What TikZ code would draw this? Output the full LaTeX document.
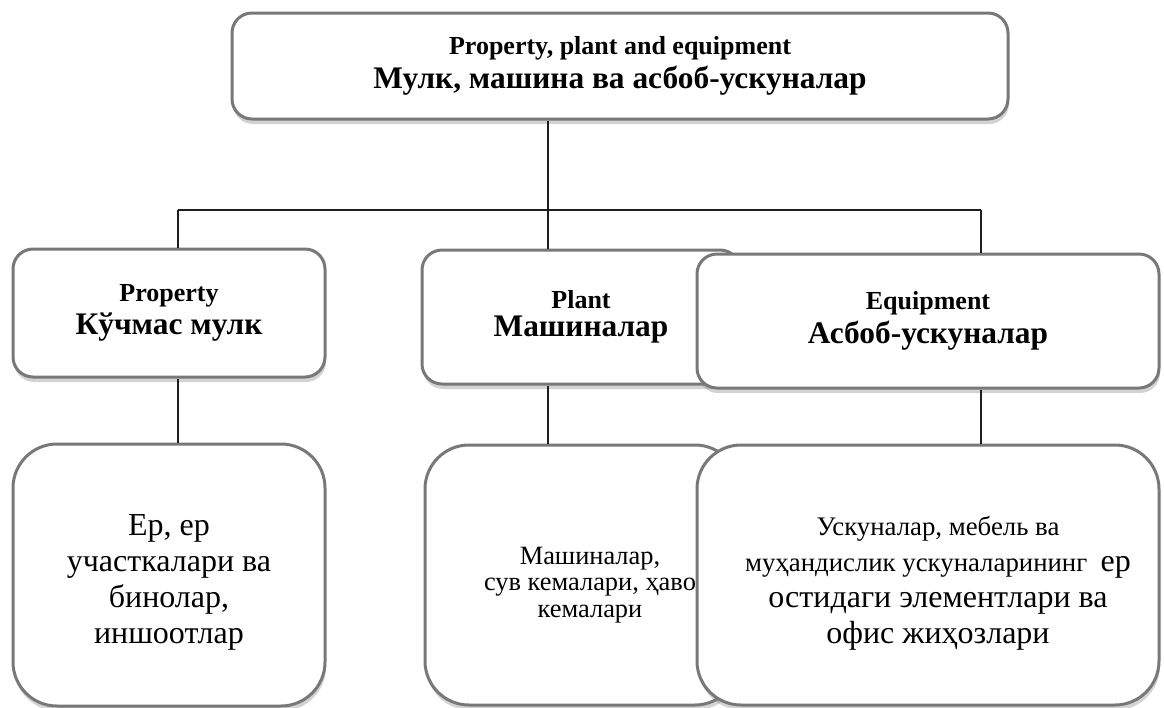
\documentclass[tikz,border=0pt]{standalone}
\usepackage{fontspec}
\setmainfont{Liberation Serif}
\definecolor{cardedge}{RGB}{120,120,120}
\definecolor{linkgray}{RGB}{30,30,30}
\usetikzlibrary{positioning,shadows}

\tikzset{
  card/.style={draw=cardedge,line width=1.5pt,fill=white,rounded corners=10pt,
        drop shadow={shadow xshift=0.5pt,shadow yshift=-2.5pt,opacity=0.35},
        align=center,inner sep=0pt},
  leafcard/.style={card,rounded corners=22pt},
  note/.style={align=center,inner sep=0pt},
  link/.style={draw=linkgray,line width=0.6pt}
}
\newcommand{\engtitle}[1]{{\fontsize{13pt}{15pt}\selectfont\bfseries #1}}
\newcommand{\uztitle}[1]{{\fontsize{15.7pt}{17.5pt}\selectfont\bfseries #1}}

\begin{document}
\begin{tikzpicture}[x=0.5pt,y=-0.5pt]
  \useasboundingbox (0,0) rectangle (1164,708);

  %% Top box
  \node[card,minimum width=388pt,minimum height=53pt] (top) at (620,66)
        {\engtitle{Property, plant and equipment}\\[2pt]
         \uztitle{Мулк, машина ва асбоб-ускуналар}};

  %% Second row
  \node[card,minimum width=156pt,minimum height=64pt] (prop) at (169,313)
        {\engtitle{Property}\\[2pt] \uztitle{Кўчмас мулк}};
  \node[card,minimum width=159pt,minimum height=67pt] (plant) at (581,317)
        {\engtitle{Plant}\\[2pt] \uztitle{Машиналар}};
  \node[card,minimum width=231pt,minimum height=67pt] (equip) at (928,321)
        {\engtitle{Equipment}\\[2pt] \uztitle{Асбоб-ускуналар}};

  %% Bottom row
  \node[leafcard,minimum width=156pt,minimum height=131pt] (propleaf) at (169,575) {};
  \node[note,font=\fontsize{16pt}{18pt}\selectfont] (propnote) at (169,582)
        {Ер, ер\\ участкалари ва\\ бинолар,\\ иншоотлар};
  \node[leafcard,minimum width=157pt,minimum height=130pt] (plantleaf) at (582,575) {};
  \node[note,font=\fontsize{13.2pt}{13.3pt}\selectfont] (plantnote) at (590,585)
        {Машиналар,\\ сув кемалари, ҳаво\\ кемалари};
  \node[leafcard,minimum width=231pt,minimum height=130pt] (equipleaf) at (928,575) {};
  \node[note,font=\fontsize{16pt}{18pt}\selectfont] (equipnote) at (938,583)
        {{\fontsize{13.4pt}{18pt}\selectfont Ускуналар, мебель ва}\\
         {\fontsize{13.4pt}{18pt}\selectfont муҳандислик ускуналарининг\ \ }ер\\
         остидаги элементлари ва\\
         офис жиҳозлари};

  %% Connectors
  \coordinate (hub) at (548,210);
  \coordinate (barL) at (178,210);
  \coordinate (barR) at (981,210);
  \draw[link] (hub |- top.south) -- (hub);
  \draw[link] (barL) -- (barR);
  \draw[link] (barL) -- (barL |- prop.north);
  \draw[link] (hub) -- (hub |- plant.north);
  \draw[link] (barR) -- (barR |- equip.north);
  \draw[link] (barL |- prop.south) -- (barL |- propleaf.north);
  \draw[link] (hub |- plant.south) -- (hub |- plantleaf.north);
  \draw[link] (barR |- equip.south) -- (barR |- equipleaf.north);
\end{tikzpicture}
\end{document}
